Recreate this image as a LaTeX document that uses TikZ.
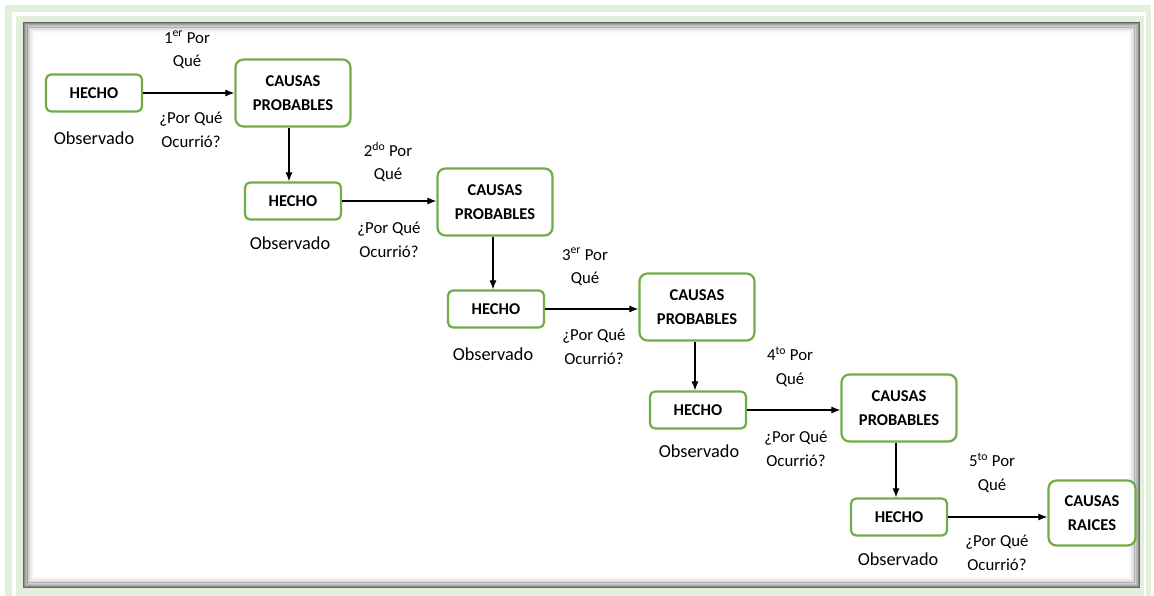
\documentclass[tikz,border=0pt]{standalone}
\usepackage{fontspec}
\setmainfont{Carlito}
\usetikzlibrary{arrows.meta,calc}
\definecolor{frameGreen}{HTML}{E2EFDA}
\definecolor{boxGreen}{HTML}{70AD47}
\tikzset{
  hecho/.style={draw=boxGreen, line width=2.2pt, rounded corners=5pt, fill=white,
    minimum width=96pt, minimum height=37pt, font=\fontsize{16.5}{17}\selectfont\bfseries},
  causa/.style={draw=boxGreen, line width=2.2pt, rounded corners=8pt, fill=white,
    minimum width=115pt, minimum height=67pt, align=center,
    font=\fontsize{16.5}{23.5}\selectfont\bfseries},
  raiz/.style={causa, minimum width=87pt, minimum height=65pt},
  obs/.style={font=\fontsize{18.3}{20}\selectfont},
  why/.style={align=center, font=\fontsize{16.8}{23.5}\selectfont},
  flecha/.style={line width=1.1pt, -{Latex[length=9pt,width=7pt]}}
}
\begin{document}
\begin{tikzpicture}[x=1pt,y=-1pt]
% page and double green frame
\fill[white] (0,0) rectangle (1154,596);
\useasboundingbox (0,0) rectangle (1154,596);
\fill[frameGreen] (5,5) rectangle (1151,596);
\fill[white] (12,12) rectangle (1146,596);
\fill[frameGreen] (16,16) rectangle (1144,596);
% inner panel with inset shadow
\fill[white] (23,22) rectangle (1140,588);
\foreach \i/\o in {0/0.6,1/0.45,2/0.34,3/0.26,4/0.19,5/0.14,6/0.1,7/0.07,8/0.045,9/0.025}{
  \draw[black, opacity=\o, line width=1.2pt]
    ($(23.6,22.6)+(\i*1.1,\i*1.1)$) rectangle ($(1139.4,587.4)+(-\i*1.1,-\i*1.1)$);
}

% step 1
\node[hecho] (h1) at (94,93) {HECHO};
\node[causa] (c1) at (293,93) {CAUSAS\\PROBABLES};
\node[obs] (o1) at (94,138) {Observado};
% step 2
\node[hecho] (h2) at (293,201) {HECHO};
\node[causa] (c2) at (495,202) {CAUSAS\\PROBABLES};
\node[obs] (o2) at (290,243) {Observado};
% step 3
\node[hecho] (h3) at (496,309) {HECHO};
\node[causa] (c3) at (697,307) {CAUSAS\\PROBABLES};
\node[obs] (o3) at (493,354) {Observado};
% step 4
\node[hecho] (h4) at (698,410) {HECHO};
\node[causa] (c4) at (899,408) {CAUSAS\\PROBABLES};
\node[obs] (o4) at (699,451) {Observado};
% step 5
\node[hecho] (h5) at (899,517) {HECHO};
\node[raiz] (r5) at (1092,513) {CAUSAS\\RAICES};
\node[obs] (o5) at (898,559) {Observado};

% question labels
\node[why] (q1) at (187,50) {1\textsuperscript{er} Por\\Qué};
\node[why] (a1) at (191,130) {¿Por Qué\\Ocurrió?};
\node[why] (q2) at (388,162) {2\textsuperscript{do} Por\\Qué};
\node[why] (a2) at (389,240) {¿Por Qué\\Ocurrió?};
\node[why] (q3) at (585,267) {3\textsuperscript{er} Por\\Qué};
\node[why] (a3) at (594,347) {¿Por Qué\\Ocurrió?};
\node[why] (q4) at (790,367) {4\textsuperscript{to} Por\\Qué};
\node[why] (a4) at (796,449) {¿Por Qué\\Ocurrió?};
\node[why] (q5) at (992,473) {5\textsuperscript{to} Por\\Qué};
\node[why] (a5) at (997,553) {¿Por Qué\\Ocurrió?};

% connectors
\draw[flecha] (h1.east) -- (h1.east -| c1.west);
\draw[flecha] ($(c1.south)+(-4,0)$) coordinate (d1) -- (d1 |- h2.north);
\draw[flecha] (h2.east) -- (h2.east -| c2.west);
\draw[flecha] ($(c2.south)+(-2,0)$) coordinate (d2) -- (d2 |- h3.north);
\draw[flecha] (h3.east) -- (h3.east -| c3.west);
\draw[flecha] ($(c3.south)+(-2,0)$) coordinate (d3) -- (d3 |- h4.north);
\draw[flecha] (h4.east) -- (h4.east -| c4.west);
\draw[flecha] ($(c4.south)+(-3,0)$) coordinate (d4) -- (d4 |- h5.north);
\draw[flecha] (h5.east) -- (h5.east -| r5.west);
\end{tikzpicture}
\end{document}
